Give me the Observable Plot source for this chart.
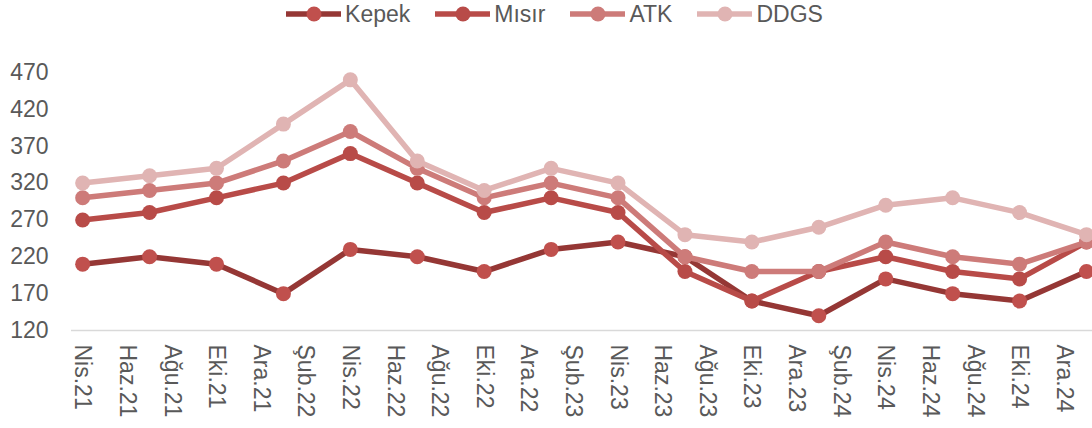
<!DOCTYPE html>
<html>
<head>
<meta charset="utf-8">
<script src="https://cdn.jsdelivr.net/npm/d3@7"></script>
<script src="https://cdn.jsdelivr.net/npm/@observablehq/plot@0.6"></script>
<style>
  html, body { margin: 0; padding: 0; background: #fff; overflow: hidden; }
  body { width: 1092px; height: 428px; font-family: Arial, "Liberation Sans", sans-serif; }
  #legend { height: 28px; display: flex; justify-content: center; align-items: center; padding-left: 40px; box-sizing: border-box; font-size: 23px; color: #595959; }
  .item { display: flex; align-items: center; margin-right: 24px; }
  .item svg { margin-right: 2px; }
</style>
</head>
<body>
<div id="legend"></div>
<div id="chart"></div>
<script>
// Data
const periods = ["Nis.21","Tem.21","Eki.21","Oca.22","Nis.22","Tem.22","Eki.22","Oca.23","Nis.23","Tem.23","Eki.23","Oca.24","Nis.24","Tem.24","Eki.24","Oca.25"];
const kepek = [210,220,210,170,230,220,200,230,240,220,160,140,190,170,160,200];
const misir = [270,280,300,320,360,320,280,300,280,200,160,200,220,200,190,240];
const atk   = [300,310,320,350,390,340,300,320,300,220,200,200,240,220,210,240];
const ddgs  = [320,330,340,400,460,350,310,340,320,250,240,260,290,300,280,250];
const tickLabels = ["Nis.21","Haz.21","Ağu.21","Eki.21","Ara.21","Şub.22","Nis.22","Haz.22","Ağu.22","Eki.22","Ara.22","Şub.23","Nis.23","Haz.23","Ağu.23","Eki.23","Ara.23","Şub.24","Nis.24","Haz.24","Ağu.24","Eki.24","Ara.24"];
const yTicks = [120,170,220,270,320,370,420,470];
const seriesNames = ["Kepek","Mısır","ATK","DDGS"];
const lineColors = ["#953735","#b84b48","#cd7b79","#e0b4b3"];
const dotColors  = ["#c0504d","#b84b48","#cd7b79","#e0b4b3"];

const months = ["Oca","Şub","Mar","Nis","May","Haz","Tem","Ağu","Eyl","Eki","Kas","Ara"];
const monthIndex = s => { const [m, y] = s.split("."); return (+y - 21) * 12 + months.indexOf(m) - 3; };

const values = [kepek, misir, atk, ddgs];
const data = [];
seriesNames.forEach((name, si) => {
  periods.forEach((p, i) => data.push({series: name, si, x: monthIndex(p), y: values[si][i]}));
});
const tickPos = tickLabels.map(monthIndex);
const labelOf = new Map(tickLabels.map(l => [monthIndex(l), l]));

// Legend
const legend = document.getElementById("legend");
seriesNames.forEach((name, i) => {
  const el = document.createElement("div");
  el.className = "item";
  el.innerHTML = `<svg width="58" height="20"><line x1="1" y1="10" x2="56" y2="10" stroke="${lineColors[i]}" stroke-width="5.5"/><circle cx="29" cy="10" r="7.5" fill="${dotColors[i]}"/></svg><span>${name}</span>`;
  legend.appendChild(el);
});

const marks = [
  Plot.ruleY([120], {stroke: "#d9d9d9", strokeWidth: 1.5}),
  Plot.axisY(yTicks, {tickSize: 0, tickPadding: 23, fontSize: 23, fill: "#595959", label: null}),
  Plot.axisX(tickPos, {tickSize: 0, tickPadding: 14, tickRotate: 90, fontSize: 23, fill: "#595959", tickFormat: d => labelOf.get(d), label: null})
];
seriesNames.forEach((name, i) => {
  const sub = data.filter(d => d.si === i);
  marks.push(Plot.line(sub, {x: "x", y: "y", stroke: lineColors[i], strokeWidth: 5.5, strokeLinejoin: "round"}));
  marks.push(Plot.dot(sub, {x: "x", y: "y", r: 7.5, fill: dotColors[i], stroke: "none"}));
});

const chart = Plot.plot({
  width: 1092,
  height: 400,
  marginLeft: 71,
  marginRight: 0,
  marginTop: 44,
  marginBottom: 98,
  style: {fontFamily: "Arial, 'Liberation Sans', sans-serif", overflow: "visible"},
  x: {domain: [-0.5, 45.27], axis: null},
  y: {domain: [120, 470], axis: null},
  marks
});
document.getElementById("chart").appendChild(chart);
</script>
</body>
</html>
